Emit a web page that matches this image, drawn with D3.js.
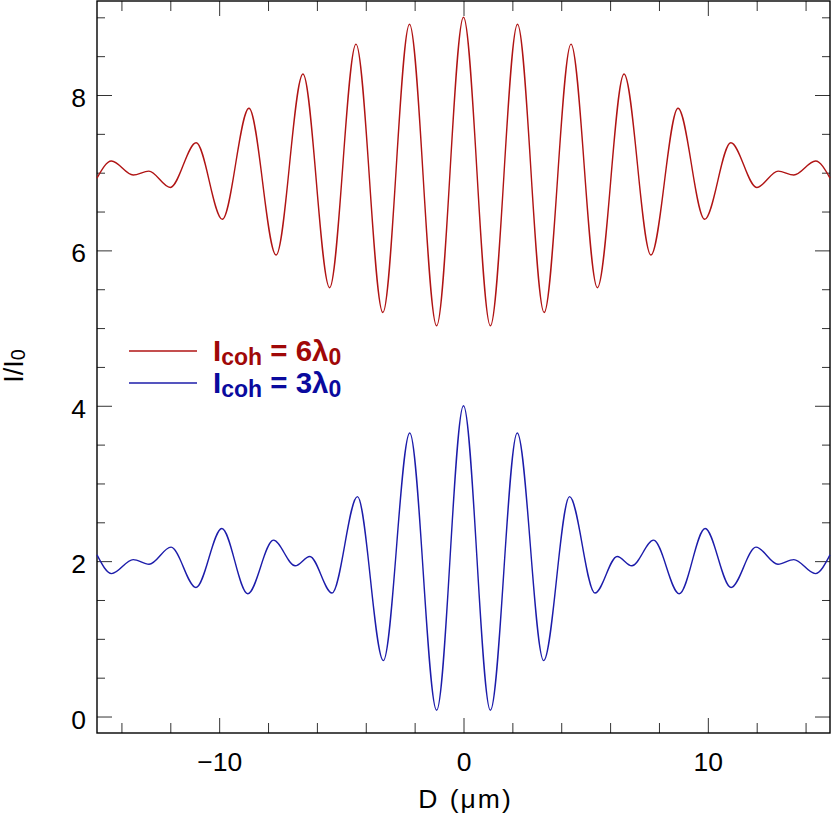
<!DOCTYPE html>
<html>
<head>
<meta charset="utf-8">
<script src="https://cdn.jsdelivr.net/npm/d3@7"></script>
<style>
  html, body { margin: 0; padding: 0; background: #fff; }
  svg { display: block; }
  text { font-family: "Liberation Sans", Arial, Helvetica, sans-serif; }
</style>
</head>
<body>
<svg id="chart" width="831" height="820"></svg>
<script>
// ---- data (extrema) ----
const redD = [-15, -14.41, -13.52, -12.88, -12.0, -10.94, -9.87, -8.78, -7.67, -6.57, -5.48, -4.40, -3.30, -2.21, -1.10, 0,
              1.10, 2.21, 3.30, 4.40, 5.48, 6.57, 7.67, 8.78, 9.87, 10.94, 12.0, 12.88, 13.52, 14.41, 15];
const redI = [6.93, 7.15, 6.97, 7.02, 6.81, 7.385, 6.40, 7.83, 5.94, 8.27, 5.52, 8.655, 5.20, 8.91, 5.03, 9.0,
              5.03, 8.91, 5.20, 8.655, 5.52, 8.27, 5.94, 7.83, 6.40, 7.385, 6.81, 7.02, 6.97, 7.15, 6.93];
const blueD = [-15, -14.40, -13.52, -12.87, -11.97, -10.95, -9.89, -8.83, -7.78, -6.89, -6.29, -5.38, -4.34, -3.28, -2.20, -1.10, 0,
               1.10, 2.20, 3.28, 4.34, 5.38, 6.29, 6.89, 7.78, 8.83, 9.89, 10.95, 11.97, 12.87, 13.52, 14.40, 15];
const blueI = [2.08, 1.84, 2.02, 1.96, 2.18, 1.66, 2.42, 1.58, 2.27, 1.94, 2.06, 1.59, 2.83, 0.72, 3.65, 0.08, 4.0,
               0.08, 3.65, 0.72, 2.83, 1.59, 2.06, 1.94, 2.27, 1.58, 2.42, 1.66, 2.18, 1.96, 2.02, 1.84, 2.08];
const xMajorTicks = [-10, 0, 10];
const xMinorTicks = [-14, -12, -8, -6, -4, -2, 2, 4, 6, 8, 12, 14];
const yMajorTicks = [0, 2, 4, 6, 8];
const yMinorTicks = [0.5, 1, 1.5, 2.5, 3, 3.5, 4.5, 5, 5.5, 6.5, 7, 7.5, 8.5, 9];
const seriesNames = ["6", "3"];   // l_coh = N λ0

// ---- layout ----
const L = 97, R = 830, T = 1, B = 733;
const svg = d3.select("#chart");
const x = d3.scaleLinear().domain([-15, 15]).range([L, R]);
const y = d3.scaleLinear().domain([-0.212, 9.21]).range([B, T]);

const tickColor = "#333";
function styleAxis(g) {
  g.select(".domain").remove();
  g.selectAll(".tick line").attr("stroke", tickColor).attr("stroke-width", 1);
}

// minor ticks
svg.append("g").attr("transform", `translate(0,${B})`)
  .call(d3.axisBottom(x).tickValues(xMinorTicks).tickSize(-10).tickFormat(""))
  .call(styleAxis);
svg.append("g").attr("transform", `translate(0,${T})`)
  .call(d3.axisTop(x).tickValues(xMinorTicks).tickSize(-10).tickFormat(""))
  .call(styleAxis);
svg.append("g").attr("transform", `translate(${L},0)`)
  .call(d3.axisLeft(y).tickValues(yMinorTicks).tickSize(-8).tickFormat(""))
  .call(styleAxis);
svg.append("g").attr("transform", `translate(${R},0)`)
  .call(d3.axisRight(y).tickValues(yMinorTicks).tickSize(-8).tickFormat(""))
  .call(styleAxis);

// major ticks
const fmt = d3.format("d");
const gxb = svg.append("g").attr("transform", `translate(0,${B})`)
  .call(d3.axisBottom(x).tickValues(xMajorTicks).tickSize(-15).tickFormat(fmt))
  .call(styleAxis);
gxb.selectAll(".tick text")
  .attr("y", 38).attr("dy", 0)
  .attr("font-size", 26.5).attr("fill", "#000")
  .attr("font-family", "Liberation Sans, Arial, Helvetica, sans-serif");
svg.append("g").attr("transform", `translate(0,${T})`)
  .call(d3.axisTop(x).tickValues(xMajorTicks).tickSize(-15).tickFormat(""))
  .call(styleAxis);
const gyl = svg.append("g").attr("transform", `translate(${L},0)`)
  .call(d3.axisLeft(y).tickValues(yMajorTicks).tickSize(-15).tickFormat(fmt))
  .call(styleAxis);
gyl.selectAll(".tick text")
  .attr("x", -11).attr("dy", 11.5)
  .attr("font-size", 26.5).attr("fill", "#000")
  .attr("font-family", "Liberation Sans, Arial, Helvetica, sans-serif");
svg.append("g").attr("transform", `translate(${R},0)`)
  .call(d3.axisRight(y).tickValues(yMajorTicks).tickSize(-15).tickFormat(""))
  .call(styleAxis);

// frame
svg.append("rect")
  .attr("x", L).attr("y", T).attr("width", R - L).attr("height", B - T)
  .attr("fill", "none").attr("stroke", "#000").attr("stroke-width", 1.4);

// curves
const line = d3.line().x((d) => x(d[0])).y((d) => y(d[1])).curve(d3.curveMonotoneX);
const redPts = redD.map((d, i) => [d, redI[i]]);
const bluePts = blueD.map((d, i) => [d, blueI[i]]);
svg.append("path").datum(redPts).attr("d", line)
  .attr("fill", "none").attr("stroke", "#b01414").attr("stroke-width", 1.4);
svg.append("path").datum(bluePts).attr("d", line)
  .attr("fill", "none").attr("stroke", "#1c1caa").attr("stroke-width", 1.4);

// axis labels
svg.append("text")
  .attr("x", (L + R) / 2 + 2).attr("y", 808)
  .attr("text-anchor", "middle").attr("font-size", 26.5).attr("fill", "#000")
  .attr("letter-spacing", 2).attr("word-spacing", 1)
  .text("D (\u03bcm)");
const yl = svg.append("text")
  .attr("transform", "translate(23,366) rotate(-90)")
  .attr("text-anchor", "middle").attr("font-size", 27).attr("fill", "#000");
yl.append("tspan").text("I/I");
yl.append("tspan").attr("font-size", 20).attr("dy", 2).text("0");

// legend
const legendColors = [["#b01414", "#a00808"], ["#1c1caa", "#0a0a9e"]];
const legendY = [351, 383];
seriesNames.forEach((n, i) => {
  svg.append("line")
    .attr("x1", 129).attr("x2", 197)
    .attr("y1", legendY[i]).attr("y2", legendY[i])
    .attr("stroke", legendColors[i][0]).attr("stroke-width", 1.4);
  const t = svg.append("text")
    .attr("x", 213).attr("y", legendY[i] + 10)
    .attr("font-size", 29.5).attr("font-weight", "bold")
    .attr("fill", legendColors[i][1]);
  t.append("tspan").text("I");
  t.append("tspan").attr("font-size", 23).attr("dy", 3.5).text("coh");
  t.append("tspan").attr("dy", -3.5).text(" = " + n + "\u03bb");
  t.append("tspan").attr("font-size", 23).attr("dy", 3.5).text("0");
});
</script>
</body>
</html>
